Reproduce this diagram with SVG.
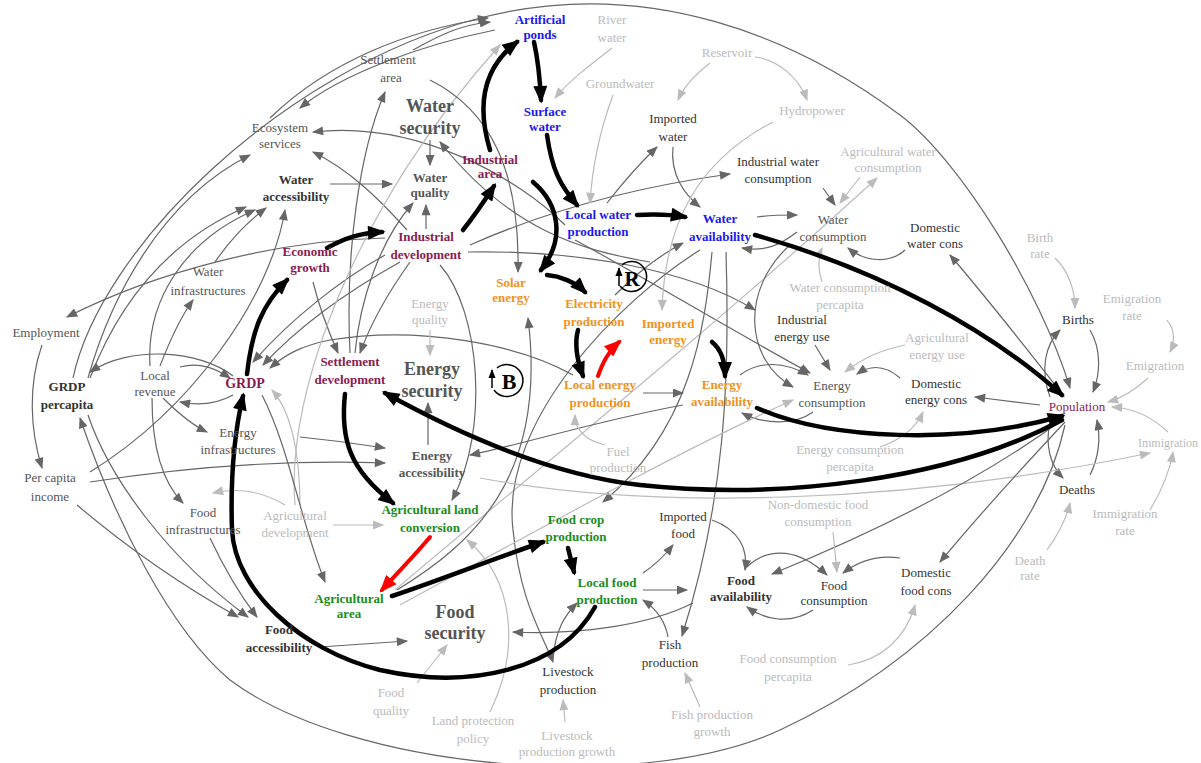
<svg xmlns="http://www.w3.org/2000/svg" width="1201" height="763" viewBox="0 0 1201 763">
<defs>
<marker id="mg" viewBox="0 0 10 8" refX="9" refY="4" markerWidth="12" markerHeight="9" markerUnits="userSpaceOnUse" orient="auto"><path d="M0,0 L10,4 L0,8 z" fill="#666"/></marker>
<marker id="ml" viewBox="0 0 10 8" refX="9" refY="4" markerWidth="12" markerHeight="9" markerUnits="userSpaceOnUse" orient="auto"><path d="M0,0 L10,4 L0,8 z" fill="#bbb"/></marker>
<marker id="mk" viewBox="0 0 10 8" refX="8" refY="4" markerWidth="19" markerHeight="14" markerUnits="userSpaceOnUse" orient="auto"><path d="M0,0 L10,4 L0,8 z" fill="#000"/></marker>
<marker id="mr" viewBox="0 0 10 8" refX="8" refY="4" markerWidth="19" markerHeight="14" markerUnits="userSpaceOnUse" orient="auto"><path d="M0,0 L10,4 L0,8 z" fill="#f00"/></marker>
<marker id="mks" viewBox="0 0 10 8" refX="9" refY="4" markerWidth="9" markerHeight="8" markerUnits="userSpaceOnUse" orient="auto"><path d="M0,0 L10,4 L0,8 z" fill="#000"/></marker>
</defs>
<style>
text{font-family:"Liberation Serif","Times New Roman",serif;font-size:13px;text-anchor:middle}
.g{fill:none;stroke:#666;stroke-width:1.2;marker-end:url(#mg)}
.l{fill:none;stroke:#bbb;stroke-width:1.2;marker-end:url(#ml)}
.k{fill:none;stroke:#000;stroke-width:4.5;stroke-linecap:round;marker-end:url(#mk)}
.r{fill:none;stroke:#f00;stroke-width:4;stroke-linecap:round;marker-end:url(#mr)}
.tg{fill:#555}
.td{fill:#333}
.tl{fill:#bbb}
.tb{font-weight:bold}
.blue{fill:#1a1aee;font-weight:bold}
.mar{fill:#8a1a50;font-weight:bold}
.org{fill:#f0921e;font-weight:bold}
.grn{fill:#1a8c1a;font-weight:bold}
.big{font-size:18px;font-weight:bold;fill:#555}
</style>
<rect width="1201" height="763" fill="#fff"/>
<g id="connectors">
<!-- outer arcs -->
<path class="g" d="M73,378 C100,250 280,70 480,18 C650,-26 800,40 900,115 C960,160 1040,290 1070,388"/>
<path class="g" d="M1065,425 C1040,540 930,660 780,730 C640,795 350,770 230,680 C170,630 115,520 80,418"/>
<!-- gray edges -->
<path class="g" d="M88,378 C110,300 160,200 250,155"/>
<path class="g" d="M90,378 C120,300 170,240 246,207"/>
<path class="g" d="M150,366 C146,300 185,240 255,210"/>
<path class="g" d="M215,262 C230,240 250,220 266,208"/>
<path class="g" d="M90,472 C190,410 270,300 285,210"/>
<path class="g" d="M160,366 C170,340 180,318 193,300"/>
<path class="g" d="M385,238 C280,240 160,270 67,317"/>
<path class="g" d="M42,345 C28,385 30,430 42,468"/>
<path class="g" d="M233,376 C200,350 130,345 90,372"/>
<path class="g" d="M180,367 C200,362 215,368 230,378"/>
<path class="g" d="M233,395 C215,405 195,405 180,402"/>
<path class="g" d="M163,398 C180,415 192,425 207,432"/>
<path class="g" d="M152,398 C152,440 160,480 183,503"/>
<path class="g" d="M90,482 C200,465 300,460 385,463"/>
<path class="g" d="M300,437 C330,440 360,444 385,448"/>
<path class="g" d="M77,505 C130,550 190,590 238,617"/>
<path class="g" d="M88,415 C110,480 170,560 248,617"/>
<path class="g" d="M210,538 C225,570 240,595 257,617"/>
<path class="g" d="M320,647 C350,645 380,643 407,641"/>
<path class="g" d="M385,255 C340,280 290,320 253,362"/>
<path class="g" d="M400,262 C350,290 300,325 263,365"/>
<path class="g" d="M573,375 C520,345 420,325 330,340 C300,346 285,355 270,368"/>
<path class="g" d="M313,282 C320,310 330,335 338,353"/>
<path class="g" d="M410,262 C390,290 372,320 360,353"/>
<path class="g" d="M350,353 C345,250 360,150 385,92"/>
<path class="g" d="M413,50 C440,35 460,25 490,22"/>
<path class="g" d="M270,118 C330,60 410,30 488,18"/>
<path class="g" d="M495,30 C420,45 340,75 300,108"/>
<path class="g" d="M407,230 C380,200 350,170 313,152"/>
<path class="g" d="M565,225 C520,180 420,120 313,132"/>
<path class="g" d="M430,140 L430,165"/>
<path class="g" d="M330,184 L392,184"/>
<path class="g" d="M426,229 L426,205"/>
<path class="g" d="M355,353 C360,300 380,240 413,203"/>
<path class="l" d="M295,505 C285,390 360,200 500,45"/>
<path class="g" d="M430,80 C490,110 520,170 518,272"/>
<path class="g" d="M650,262 C580,250 510,230 440,142"/>
<path class="g" d="M470,245 C560,205 650,185 730,174"/>
<path class="g" d="M468,252 C580,250 690,270 755,310"/>
<path class="g" d="M575,240 C640,275 740,335 810,373"/>
<path class="g" d="M615,295 C640,270 660,255 683,243"/>
<path class="l" d="M612,48 C590,65 570,80 555,98"/>
<path class="l" d="M613,95 C600,130 592,170 590,203"/>
<path class="l" d="M710,63 C695,75 685,85 678,100"/>
<path class="l" d="M755,57 C780,60 800,80 807,100"/>
<path class="g" d="M607,203 C625,180 640,163 657,147"/>
<path class="g" d="M673,147 C670,175 685,195 700,207"/>
<path class="g" d="M757,217 C770,215 785,215 797,215"/>
<path class="g" d="M823,188 L835,205"/>
<path class="l" d="M860,177 L840,203"/>
<path class="l" d="M822,282 C818,270 818,258 822,248"/>
<path class="g" d="M905,250 C890,264 865,262 848,248"/>
<path class="g" d="M797,232 C780,245 765,252 742,248"/>
<path class="l" d="M773,122 C700,160 665,220 662,310"/>
<path class="l" d="M395,590 C500,500 700,340 877,178"/>
<path class="g" d="M1063,395 C1020,340 980,290 950,255"/>
<path class="g" d="M712,252 C705,330 690,430 603,502"/>
<path class="g" d="M726,252 C730,380 725,500 682,636"/>
<path class="g" d="M700,250 C620,300 500,420 513,530 C520,600 540,630 553,662"/>
<path class="g" d="M397,590 C470,545 548,480 528,318"/>
<path class="g" d="M790,245 C740,290 745,360 793,387"/>
<path class="g" d="M815,345 L830,370"/>
<path class="l" d="M905,345 C880,350 860,360 845,372"/>
<path class="g" d="M900,378 C885,365 870,365 857,374"/>
<path class="g" d="M740,375 C760,360 785,362 808,375"/>
<path class="g" d="M813,412 C795,425 765,425 742,413"/>
<path class="g" d="M643,393 L683,393"/>
<path class="g" d="M683,405 C600,420 520,445 470,455"/>
<path class="l" d="M430,330 L430,355"/>
<path class="g" d="M428,445 L428,403"/>
<path class="g" d="M440,265 C480,310 490,430 452,500"/>
<path class="l" d="M605,445 C585,440 575,430 575,415"/>
<path class="l" d="M880,447 C900,440 915,430 923,412"/>
<path class="l" d="M400,605 C520,540 680,450 793,400"/>
<path class="g" d="M1040,405 L975,397"/>
<path class="g" d="M1050,397 C1040,370 1045,345 1060,330"/>
<path class="g" d="M1090,330 C1102,350 1100,375 1093,392"/>
<path class="g" d="M1050,422 C1045,445 1050,465 1063,478"/>
<path class="g" d="M1090,475 C1100,455 1100,435 1097,420"/>
<path class="l" d="M1055,258 C1068,270 1075,290 1075,308"/>
<path class="l" d="M1167,320 C1175,330 1175,342 1170,352"/>
<path class="l" d="M1148,378 C1135,390 1122,398 1108,402"/>
<path class="l" d="M1168,432 C1150,415 1130,408 1112,407"/>
<path class="l" d="M1150,510 C1162,490 1170,470 1173,452"/>
<path class="l" d="M1047,550 C1058,535 1066,520 1070,503"/>
<path class="l" d="M480,478 C650,510 900,505 1150,453"/>
<path class="g" d="M1062,420 C980,480 880,530 772,574"/>
<path class="g" d="M1065,422 C1020,470 975,520 940,562"/>
<path class="g" d="M900,558 C880,555 860,560 843,573"/>
<path class="l" d="M833,532 L837,572"/>
<path class="g" d="M747,567 C770,545 800,550 827,575"/>
<path class="g" d="M813,610 C790,625 765,620 747,607"/>
<path class="g" d="M712,520 C740,530 748,550 745,570"/>
<path class="g" d="M643,573 C655,565 665,555 673,545"/>
<path class="g" d="M643,590 L687,590"/>
<path class="g" d="M668,637 C665,620 655,608 643,600"/>
<path class="l" d="M700,707 L685,673"/>
<path class="l" d="M848,665 C880,660 905,640 915,605"/>
<path class="g" d="M693,603 C650,625 580,635 513,632"/>
<path class="l" d="M417,683 L447,645"/>
<path class="l" d="M490,712 C520,650 515,580 467,540"/>
<path class="l" d="M565,722 L563,700"/>
<path class="g" d="M553,660 C555,630 565,615 577,603"/>
<path class="l" d="M333,525 L383,525"/>
<path class="l" d="M300,505 C300,450 290,410 272,390"/>
<path class="l" d="M285,505 C260,490 235,488 213,493"/>
<path class="g" d="M262,395 C290,450 300,520 325,582"/>
<!-- thick black and red -->
<path class="k" d="M490,150 C478,110 480,70 517,42"/>
<path class="k" d="M534,42 C538,60 540,80 541,100"/>
<path class="k" d="M547,135 C552,170 560,185 577,205"/>
<path class="k" d="M463,230 C475,215 485,200 494,186"/>
<path class="k" d="M327,248 C345,238 360,233 382,232"/>
<path class="k" d="M533,182 C560,205 565,240 541,270"/>
<path class="k" d="M547,275 C560,276 575,282 585,292"/>
<path class="k" d="M578,330 C574,345 577,360 583,376"/>
<path class="r" d="M598,376 C603,362 608,352 619,342"/>
<path class="k" d="M637,215 C655,214 668,214 685,217"/>
<path class="k" d="M755,235 C880,270 990,330 1062,395"/>
<path class="k" d="M712,342 C722,350 725,362 725,376"/>
<path class="k" d="M757,408 C830,440 960,445 1062,416"/>
<path class="k" d="M1062,420 C950,480 780,500 640,485 C560,476 470,440 385,393"/>
<path class="k" d="M345,394 C340,440 350,470 393,503"/>
<path class="k" d="M247,374 C252,330 262,305 287,280"/>
<path class="k" d="M595,607 C560,670 470,690 380,670 C300,650 235,590 232,530 C230,470 235,430 243,396"/>
<path class="k" d="M392,596 C440,580 490,560 543,542"/>
<path class="r" d="M430,537 C415,555 400,570 382,590"/>
<path class="k" d="M568,548 L574,572"/>
</g>
<g id="loop-R">
<path d="M620,286 A15,15 0 1 0 622,265" fill="none" stroke="#000" stroke-width="1.5"/>
<path d="M619,286 L619,268" fill="none" stroke="#000" stroke-width="1.5" marker-end="url(#mks)"/>
<text x="632" y="286" style="font-size:21px;font-weight:bold" fill="#000">R</text>
</g>
<g id="loop-B">
<path d="M494,390 A16,16 0 1 0 497,368" fill="none" stroke="#000" stroke-width="1.5"/>
<path d="M492,388 L492,370" fill="none" stroke="#000" stroke-width="1.5" marker-end="url(#mks)"/>
<text x="509" y="389" style="font-size:22px;font-weight:bold" fill="#000">B</text>
</g>
<g id="artificial-ponds"><text x="540" y="24" class="blue">Artificial</text><text x="540" y="39" class="blue">ponds</text></g>
<g id="river-water"><text x="612" y="24" class="tl">River</text><text x="612" y="42" class="tl">water</text></g>
<g id="settlement-area"><text x="388" y="64" class="tg">Settlement</text><text x="391" y="82" class="tg">area</text></g>
<g id="reservoir"><text x="727" y="57" class="tl">Reservoir</text></g>
<g id="groundwater"><text x="620" y="88" class="tl">Groundwater</text></g>
<g id="water-security"><text x="430" y="112" class="big">Water</text><text x="430" y="134" class="big">security</text></g>
<g id="imported-water"><text x="673" y="123" class="td">Imported</text><text x="673" y="141" class="td">water</text></g>
<g id="hydropower"><text x="812" y="115" class="tl">Hydropower</text></g>
<g id="surface-water"><text x="545" y="116" class="blue">Surface</text><text x="545" y="131" class="blue">water</text></g>
<g id="ecosystem-services"><text x="280" y="132" class="tg">Ecosystem</text><text x="280" y="148" class="tg">services</text></g>
<g id="industrial-area"><text x="490" y="164" class="mar">Industrial</text><text x="490" y="178" class="mar">area</text></g>
<g id="water-quality"><text x="430" y="182" class="tg tb">Water</text><text x="430" y="197" class="tg tb">quality</text></g>
<g id="water-accessibility"><text x="296" y="184" class="td tb">Water</text><text x="296" y="201" class="td tb">accessibility</text></g>
<g id="industrial-water-consumption"><text x="778" y="166" class="td">Industrial water</text><text x="778" y="183" class="td">consumption</text></g>
<g id="agricultural-water-consumption"><text x="888" y="156" class="tl">Agricultural water</text><text x="888" y="172" class="tl">consumption</text></g>
<g id="local-water-production"><text x="598" y="219" class="blue">Local water</text><text x="598" y="236" class="blue">production</text></g>
<g id="water-availability"><text x="720" y="223" class="blue">Water</text><text x="720" y="241" class="blue">availability</text></g>
<g id="water-consumption"><text x="833" y="224" class="tg">Water</text><text x="833" y="241" class="tg">consumption</text></g>
<g id="domestic-water-cons"><text x="935" y="232" class="td">Domestic</text><text x="935" y="248" class="td">water cons</text></g>
<g id="economic-growth"><text x="310" y="256" class="mar">Economic</text><text x="310" y="272" class="mar">growth</text></g>
<g id="industrial-development"><text x="426" y="241" class="mar">Industrial</text><text x="426" y="259" class="mar">development</text></g>
<g id="water-infrastructures"><text x="208" y="276" class="tg">Water</text><text x="208" y="295" class="tg">infrastructures</text></g>
<g id="birth-rate"><text x="1040" y="242" class="tl">Birth</text><text x="1040" y="258" class="tl">rate</text></g>
<g id="solar-energy"><text x="511" y="287" class="org">Solar</text><text x="511" y="302" class="org">energy</text></g>
<g id="electricity-production"><text x="594" y="308" class="org">Electricity</text><text x="594" y="326" class="org">production</text></g>
<g id="imported-energy"><text x="668" y="328" class="org">Imported</text><text x="668" y="344" class="org">energy</text></g>
<g id="water-consumption-percapita"><text x="840" y="292" class="tl">Water consumption</text><text x="840" y="309" class="tl">percapita</text></g>
<g id="industrial-energy-use"><text x="802" y="324" class="td">Industrial</text><text x="802" y="341" class="td">energy use</text></g>
<g id="agricultural-energy-use"><text x="937" y="342" class="tl">Agricultural</text><text x="937" y="359" class="tl">energy use</text></g>
<g id="emigration-rate"><text x="1132" y="303" class="tl">Emigration</text><text x="1132" y="320" class="tl">rate</text></g>
<g id="births"><text x="1078" y="324" class="td">Births</text></g>
<g id="employment"><text x="46" y="337" class="tg">Employment</text></g>
<g id="energy-quality"><text x="430" y="308" class="tl">Energy</text><text x="430" y="324" class="tl">quality</text></g>
<g id="settlement-development"><text x="350" y="366" class="mar">Settlement</text><text x="350" y="384" class="mar">development</text></g>
<g id="energy-security"><text x="432" y="375" class="big">Energy</text><text x="432" y="397" class="big">security</text></g>
<g id="local-energy-production"><text x="600" y="389" class="org">Local energy</text><text x="600" y="407" class="org">production</text></g>
<g id="energy-availability"><text x="722" y="389" class="org">Energy</text><text x="722" y="406" class="org">availability</text></g>
<g id="energy-consumption"><text x="832" y="390" class="tg">Energy</text><text x="832" y="407" class="tg">consumption</text></g>
<g id="domestic-energy-cons"><text x="936" y="388" class="td">Domestic</text><text x="936" y="404" class="td">energy cons</text></g>
<g id="population"><text x="1077" y="411" fill="#8a1a50">Population</text></g>
<g id="emigration"><text x="1155" y="370" class="tl">Emigration</text></g>
<g id="grdp-percapita"><text x="67" y="391" class="td tb">GRDP</text><text x="67" y="409" class="td tb">percapita</text></g>
<g id="local-revenue"><text x="155" y="380" class="tg">Local</text><text x="155" y="396" class="tg">revenue</text></g>
<g id="grdp"><text x="245" y="388" class="mar" style="font-size:14px">GRDP</text></g>
<g id="energy-infrastructures"><text x="238" y="437" class="tg">Energy</text><text x="238" y="454" class="tg">infrastructures</text></g>
<g id="energy-accessibility"><text x="432" y="460" class="tg tb">Energy</text><text x="432" y="477" class="tg tb">accessibility</text></g>
<g id="fuel-production"><text x="618" y="456" class="tl">Fuel</text><text x="618" y="472" class="tl">production</text></g>
<g id="energy-consumption-percapita"><text x="850" y="454" class="tl">Energy consumption</text><text x="850" y="471" class="tl">percapita</text></g>
<g id="immigration"><text x="1168" y="447" class="tl" style="font-size:12px">Immigration</text></g>
<g id="per-capita-income"><text x="50" y="482" class="tg">Per capita</text><text x="50" y="501" class="tg">income</text></g>
<g id="deaths"><text x="1077" y="494" class="td">Deaths</text></g>
<g id="food-infrastructures"><text x="203" y="517" class="tg">Food</text><text x="203" y="534" class="tg">infrastructures</text></g>
<g id="agricultural-development"><text x="295" y="520" class="tl">Agricultural</text><text x="295" y="537" class="tl">development</text></g>
<g id="agricultural-land-conversion"><text x="430" y="514" class="grn">Agricultural land</text><text x="430" y="532" class="grn">conversion</text></g>
<g id="food-crop-production"><text x="576" y="524" class="grn">Food crop</text><text x="576" y="541" class="grn">production</text></g>
<g id="imported-food"><text x="683" y="521" class="td">Imported</text><text x="683" y="538" class="td">food</text></g>
<g id="non-domestic-food-consumption"><text x="818" y="509" class="tl">Non-domestic food</text><text x="818" y="526" class="tl">consumption</text></g>
<g id="immigration-rate"><text x="1125" y="518" class="tl">Immigration</text><text x="1125" y="535" class="tl">rate</text></g>
<g id="death-rate"><text x="1030" y="565" class="tl">Death</text><text x="1030" y="580" class="tl">rate</text></g>
<g id="local-food-production"><text x="607" y="587" class="grn">Local food</text><text x="607" y="604" class="grn">production</text></g>
<g id="food-availability"><text x="741" y="585" class="td tb">Food</text><text x="741" y="601" class="td tb">availability</text></g>
<g id="food-consumption"><text x="834" y="590" class="td">Food</text><text x="834" y="605" class="td">consumption</text></g>
<g id="domestic-food-cons"><text x="926" y="577" class="td">Domestic</text><text x="926" y="595" class="td">food cons</text></g>
<g id="agricultural-area"><text x="349" y="603" class="grn">Agricultural</text><text x="349" y="618" class="grn">area</text></g>
<g id="food-security"><text x="455" y="618" class="big">Food</text><text x="455" y="639" class="big">security</text></g>
<g id="food-accessibility"><text x="279" y="634" class="td tb">Food</text><text x="279" y="652" class="td tb">accessibility</text></g>
<g id="fish-production"><text x="670" y="649" class="td">Fish</text><text x="670" y="667" class="td">production</text></g>
<g id="food-consumption-percapita"><text x="788" y="663" class="tl">Food consumption</text><text x="788" y="681" class="tl">percapita</text></g>
<g id="livestock-production"><text x="568" y="676" class="td">Livestock</text><text x="568" y="694" class="td">production</text></g>
<g id="food-quality"><text x="391" y="697" class="tl">Food</text><text x="391" y="715" class="tl">quality</text></g>
<g id="land-protection-policy"><text x="473" y="725" class="tl">Land protection</text><text x="473" y="743" class="tl">policy</text></g>
<g id="fish-production-growth"><text x="712" y="719" class="tl">Fish production</text><text x="712" y="736" class="tl">growth</text></g>
<g id="livestock-production-growth"><text x="567" y="740" class="tl">Livestock</text><text x="567" y="756" class="tl">production growth</text></g>
</svg>
